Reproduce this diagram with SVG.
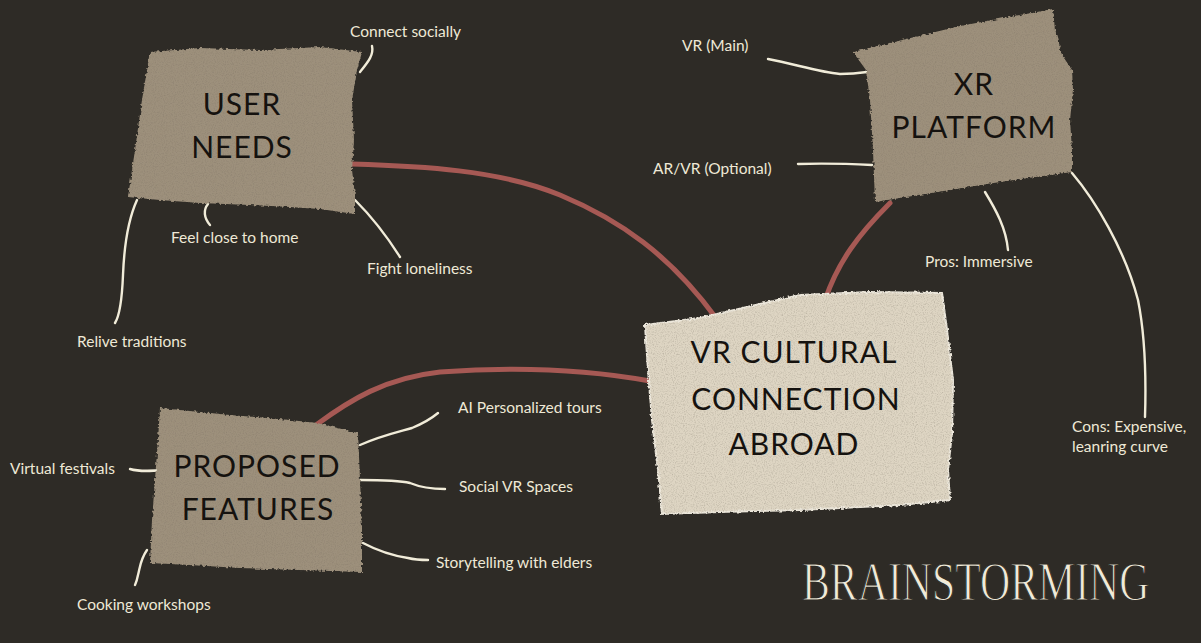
<svg xmlns="http://www.w3.org/2000/svg" width="1201" height="643" viewBox="0 0 1201 643">
  <defs>
    <!-- torn-paper look: slightly jagged outline plus sparse grain -->
    <filter id="paper" x="-8%" y="-8%" width="116%" height="116%">
      <feTurbulence type="fractalNoise" baseFrequency="0.35" numOctaves="2" seed="4" result="edge"/>
      <feDisplacementMap in="SourceGraphic" in2="edge" scale="4" xChannelSelector="R" yChannelSelector="G" result="torn"/>
      <feTurbulence type="fractalNoise" baseFrequency="0.9" numOctaves="2" seed="9" result="grain"/>
      <feColorMatrix in="grain" type="matrix" values="0 0 0 0 0.2  0 0 0 0 0.17  0 0 0 0 0.13  0 0 0 0.9 -0.4" result="specks"/>
      <feComposite in="specks" in2="torn" operator="in" result="grainIn"/>
      <feMerge>
        <feMergeNode in="torn"/>
        <feMergeNode in="grainIn"/>
      </feMerge>
    </filter>
  </defs>
  <style>
    .bg { fill: #2e2b26; }
    .kraft { fill: #9d907c; }
    .canvas { fill: #ded5c3; stroke: #eee9dd; stroke-width: 2; }
    .link { fill: none; stroke: #a65954; stroke-width: 5; stroke-linecap: round; }
    .twig { fill: none; stroke: #f1ecd9; stroke-width: 2.4; stroke-linecap: round; stroke-linejoin: round; }
    .title { font-family: Lato, "Liberation Sans", sans-serif; font-size: 30px; fill: #15120f; text-anchor: middle; letter-spacing: 1px; }
    .note { font-family: Lato, "Liberation Sans", sans-serif; font-size: 15.5px; fill: #efe9d6; }
    .banner { font-family: "Liberation Serif", serif; font-size: 55px; fill: #f0ead8; stroke: #2e2b26; stroke-width: 1.2px; }
  </style>

  <rect class="bg" x="0" y="0" width="1201" height="643"/>

  <!-- connectors -->
  <g id="connectors">
    <path class="link" d="M352,164 C420,166 500,170 560,195 C620,220 670,255 716,318"/>
    <path class="link" d="M825,300 C838,262 858,235 890,203"/>
    <path class="link" d="M316,425 C350,400 385,378 440,372 C520,366 590,370 650,381"/>

    <path class="twig" d="M360,72 C368,62 374,55 372,46"/>
    <path class="twig" d="M208,204 C203,210 204,218 210,225"/>
    <path class="twig" d="M137,200 C127,222 124,250 123,275 C122,300 120,315 115,323"/>
    <path class="twig" d="M355,200 C370,215 388,238 400,257"/>
    <path class="twig" d="M768,59 C795,64 818,72 840,74 C852,74 860,73 867,72"/>
    <path class="twig" d="M798,164 C830,163 852,164 872,165"/>
    <path class="twig" d="M985,192 C996,210 1006,228 1008,250"/>
    <path class="twig" d="M1072,173 C1095,200 1125,250 1138,300 C1146,340 1146,385 1145,417"/>
    <path class="twig" d="M130,469 C140,472 152,471 165,470"/>
    <path class="twig" d="M147,550 C140,560 140,568 138,575 C137,580 136,583 135,585"/>
    <path class="twig" d="M360,445 C380,436 398,432 412,428 C424,423 432,418 438,413"/>
    <path class="twig" d="M360,480 C380,480 398,480 410,483 C422,488 432,489 445,489"/>
    <path class="twig" d="M363,543 C380,552 395,556 408,558 C416,560 422,560 428,560"/>
  </g>

  <!-- central topic -->
  <g id="node-core">
    <path class="canvas" filter="url(#paper)" d="M645,325 L700,318 L760,304 L800,295 L870,292 L942,293 L947,330 L953,380 L952,433 L948,470 L950,500 L900,505 L800,510 L720,512 L662,514 L658,470 L652,420 L648,370 Z"/>
    <text class="title" x="794" y="363">VR CULTURAL</text>
    <text class="title" x="796" y="410">CONNECTION</text>
    <text class="title" x="794" y="455">ABROAD</text>
  </g>

  <!-- branch: user needs -->
  <g id="node-user-needs">
    <path class="kraft" filter="url(#paper)" d="M150,52 L200,48 L260,50 L320,47 L362,52 L357,70 L352,100 L354,140 L352,170 L355,195 L355,214 L320,209 L290,207 L250,205 L200,203 L160,200 L128,197 L135,150 L142,100 Z"/>
    <text class="title" x="242" y="115">USER</text>
    <text class="title" x="242" y="158">NEEDS</text>
  </g>

  <!-- branch: XR platform -->
  <g id="node-xr-platform">
    <path class="kraft" filter="url(#paper)" d="M853,52 L960,26 L1053,9 L1055,30 L1062,55 L1072,70 L1073,90 L1070,120 L1072,150 L1072,172 L1000,182 L950,190 L875,202 L873,150 L870,100 L866,70 Z"/>
    <text class="title" x="974" y="95">XR</text>
    <text class="title" x="974" y="138">PLATFORM</text>
  </g>

  <!-- branch: proposed features -->
  <g id="node-proposed-features">
    <path class="kraft" filter="url(#paper)" d="M160,408 L230,415 L290,420 L317,423 L358,433 L360,480 L362,530 L362,572 L300,570 L240,568 L190,565 L150,563 L152,520 L155,480 L158,440 Z"/>
    <text class="title" x="257" y="477">PROPOSED</text>
    <text class="title" x="258" y="520">FEATURES</text>
  </g>

  <!-- leaf notes -->
  <g id="note-connect-socially"><text class="note" x="350" y="37">Connect socially</text></g>
  <g id="note-feel-close"><text class="note" x="171" y="243">Feel close to home</text></g>
  <g id="note-fight-loneliness"><text class="note" x="367" y="274">Fight loneliness</text></g>
  <g id="note-relive-traditions"><text class="note" x="77" y="347">Relive traditions</text></g>
  <g id="note-vr-main"><text class="note" x="682" y="51">VR (Main)</text></g>
  <g id="note-ar-vr"><text class="note" x="653" y="174">AR/VR (Optional)</text></g>
  <g id="note-pros"><text class="note" x="925" y="267">Pros: Immersive</text></g>
  <g id="note-cons">
    <text class="note" x="1072" y="432">Cons: Expensive,</text>
    <text class="note" x="1072" y="452">leanring curve</text>
  </g>
  <g id="note-virtual-festivals"><text class="note" x="10" y="474">Virtual festivals</text></g>
  <g id="note-cooking"><text class="note" x="77" y="610">Cooking workshops</text></g>
  <g id="note-ai-tours"><text class="note" x="458" y="413">AI Personalized tours</text></g>
  <g id="note-social-vr"><text class="note" x="459" y="492">Social VR Spaces</text></g>
  <g id="note-storytelling"><text class="note" x="436" y="568">Storytelling with elders</text></g>

  <!-- heading: tall, narrow display lettering -->
  <g id="heading" transform="translate(802,600) scale(0.76,1)">
    <text class="banner" x="0" y="0">BRAINSTORMING</text>
  </g>
</svg>
